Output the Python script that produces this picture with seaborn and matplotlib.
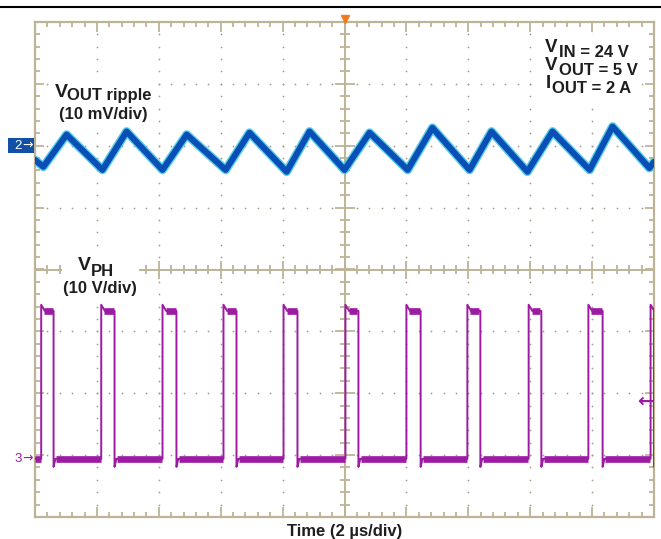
import matplotlib
matplotlib.use("Agg")
import matplotlib.pyplot as plt
from matplotlib.patches import Rectangle
from matplotlib.lines import Line2D
from matplotlib.collections import LineCollection
import numpy as np
import pandas as pd
import seaborn as sns

# VOUT ripple: turning points (time in us, mV around the ch2 marker)
ripple_t = [-10.0, -9.73, -8.98, -7.82, -7.04, -5.88, -5.10, -3.84, -3.07, -1.87, -1.13,
            0.0, 0.81, 2.04, 2.84, 4.04, 4.75, 5.91, 6.72, 7.92, 8.66, 9.85, 10.0]
ripple_mv = [-2.3, -3.4, 1.8, -3.9, 2.3, -3.9, 1.8, -3.9, 2.1, -4.2, 2.3,
             -3.9, 2.1, -3.9, 2.9, -3.9, 2.3, -4.2, 2.3, -3.9, 3.1, -3.6, -2.6]

# VPH switch node: edges (us) and levels (V)
vph_rise = [-9.80, -7.86, -5.88, -3.91, -1.97, 0.03, 2.00, 3.97, 5.95, 7.88, 9.89]
vph_fall = [-9.40, -7.43, -5.43, -3.49, -1.52, 0.45, 2.46, 4.39, 6.36, 8.34]
vph_low = -0.6
vph_high = 23.3
vph_spike = 24.3
vph_undershoot = -1.9

# scope settings
ch2_offset = 2.0    # div
ch3_offset = -3.0   # div
mv_per_div = 10.0
v_per_div = 10.0

W, H = 661, 539
GRID = "#bdb497"
DOT = "#a39d8a"
BLUE = "#0a4fb5"
CYAN = "#3cc6e6"
PURPLE = "#9d1aa3"
TXT = "#1e1e1e"

sns.set_style("white")
plt.rcParams["font.family"] = ["Liberation Sans", "DejaVu Sans"]

fig = plt.figure(figsize=(W / 100, H / 100), dpi=100)
ax = fig.add_axes([35 / W, 22 / H, 619 / W, 495 / H])
ax.set_xlim(-10, 10)
ax.set_ylim(-4, 4)
ax.set_xticks([])
ax.set_yticks([])
for sp in ax.spines.values():
    sp.set_color(GRID)
    sp.set_linewidth(1.6)

px_x = 20 / 619   # one pixel in us
px_y = 8 / 495    # one pixel in div

# dotted graticule
major_x = np.arange(-10, 10.01, 2)
major_y = np.arange(-4, 4.01, 1)
minor_x = np.arange(-10, 10.01, 0.4)
minor_y = np.arange(-4, 4.01, 0.2)
dots = []
for x in major_x[1:-1]:
    if abs(x) > 1e-9:
        dots += [(x, y) for y in minor_y[1:-1]]
for y in major_y[1:-1]:
    if abs(y) > 1e-9:
        dots += [(x, y) for x in minor_x[1:-1]]
dots = np.array(dots)
ax.scatter(dots[:, 0], dots[:, 1], s=1.6, color=DOT, linewidths=0, zorder=1)

# centre crosshair and tick marks
ax.axvline(0, color=GRID, lw=1.4, zorder=1)
ax.axhline(0, color=GRID, lw=1.4, zorder=1)
segs = []
for y in minor_y[1:-1]:
    is_major = abs(y - round(y)) < 1e-6
    L = (10 if is_major else 5) * px_x
    segs.append([(-L, y), (L, y)])
    segs.append([(-10, y), (-10 + (9 if is_major else 5) * px_x, y)])
    segs.append([(10, y), (10 - (9 if is_major else 5) * px_x, y)])
for x in minor_x[1:-1]:
    is_major = abs(x / 2 - round(x / 2)) < 1e-6
    L = (9 if is_major else 4.5) * px_y
    segs.append([(x, -L), (x, L)])
    segs.append([(x, -4), (x, -4 + (10 if is_major else 5) * px_y)])
    segs.append([(x, 4), (x, 4 - (10 if is_major else 5) * px_y)])
ax.add_collection(LineCollection(segs, colors=GRID, linewidths=1.3, zorder=1))

# VOUT ripple trace
ripple = pd.DataFrame({"t": ripple_t,
                       "y": [ch2_offset + v / mv_per_div for v in ripple_mv]})
sns.lineplot(data=ripple, x="t", y="y", sort=False, estimator=None,
             color=CYAN, lw=6.4, alpha=0.85, ax=ax, zorder=3)
sns.lineplot(data=ripple, x="t", y="y", sort=False, estimator=None,
             color=BLUE, lw=4.4, ax=ax, zorder=4)

# VPH trace
t_pts, v_pts = [-10.0], [vph_low]
lev_rows = []
prev = -10.0
for i, r in enumerate(vph_rise):
    lev_rows += [(2 * i, prev, vph_low), (2 * i, r - 0.02, vph_low)]
    f = vph_fall[i] if i < len(vph_fall) else 10.0
    lev_rows += [(2 * i + 1, r + 0.1, vph_high), (2 * i + 1, f - 0.03, vph_high)]
    t_pts += [r, r, r + 0.12, f, f, f + 0.06]
    v_pts += [vph_low, vph_spike, vph_high, vph_high, vph_undershoot, vph_low]
    prev = f + 0.08
lev_rows += [(2 * len(vph_rise), prev, vph_low), (2 * len(vph_rise), prev, vph_low)]
vph = pd.DataFrame({"t": t_pts, "y": [ch3_offset + v / v_per_div for v in v_pts]})
levels = pd.DataFrame(lev_rows, columns=["seg", "t", "v"])
levels["y"] = ch3_offset + levels["v"] / v_per_div
sns.lineplot(data=levels, x="t", y="y", units="seg", sort=False, estimator=None,
             color=PURPLE, lw=4.8, solid_capstyle="butt", ax=ax, zorder=3)
sns.lineplot(data=vph, x="t", y="y", sort=False, estimator=None,
             color=PURPLE, lw=1.4, ax=ax, zorder=4)
ax.set_xlabel("")
ax.set_ylabel("")
ax.set_xlim(-10, 10)
ax.set_ylim(-4, 4)


def fpos(x, y):
    return x / W, 1 - y / H


def white_box(x0, y0, x1, y1):
    fig.add_artist(Rectangle(fpos(x0, y1), (x1 - x0) / W, (y1 - y0) / H,
                             transform=fig.transFigure, facecolor="white",
                             edgecolor="none", zorder=5))


def label(x, y, s, size=12, **kw):
    kw.setdefault("color", TXT)
    fig.text(*fpos(x, y), s, fontsize=size, fontweight="bold", va="baseline",
             zorder=6, **kw)


# labels
white_box(50, 80, 154, 126)
label(55, 97, "V", 14)
label(67, 100, "OUT ripple")
label(103, 119, "(10 mV/div)", ha="center")

white_box(62, 254, 139, 300)
label(78, 270, "V", 14)
label(91, 276, "PH")
label(100, 293, "(10 V/div)", ha="center")

white_box(538, 34, 642, 98)
label(545, 52, "V", 13.5)
label(559, 57, "IN = 24 V")
label(545, 70, "V", 13.5)
label(559, 75, "OUT = 5 V")
label(546, 88, "I", 13.5)
label(552, 93, "OUT = 2 A")

label(345, 536, "Time (2 µs/div)", ha="center")

# scope markers
fig.add_artist(Line2D([0, 1], [1 - 7 / H] * 2, color="black", lw=1.5,
                      transform=fig.transFigure))
fig.add_artist(Rectangle(fpos(8, 153), 26 / W, 15 / H, transform=fig.transFigure,
                         facecolor="#1250a8", edgecolor="none"))
fig.text(*fpos(18, 146), "2", color="white", fontsize=9.5, ha="center", va="center")
fig.text(*fpos(28, 145), "→", color="white", fontsize=9, ha="center", va="center",
         family="DejaVu Sans")
fig.text(*fpos(18, 459), "3", color=PURPLE, fontsize=9.5, ha="center", va="center")
fig.text(*fpos(28, 458), "→", color=PURPLE, fontsize=9, ha="center", va="center",
         family="DejaVu Sans")
fig.text(*fpos(645, 401), "←", color=PURPLE, fontsize=14, ha="center", va="center",
         family="DejaVu Sans", fontweight="bold", zorder=6)
ax.plot([0], [4 + 3 * px_y], marker="v", markersize=6, color="#f27a1d",
        clip_on=False, zorder=6)

fig.savefig("out.png", dpi=100)
